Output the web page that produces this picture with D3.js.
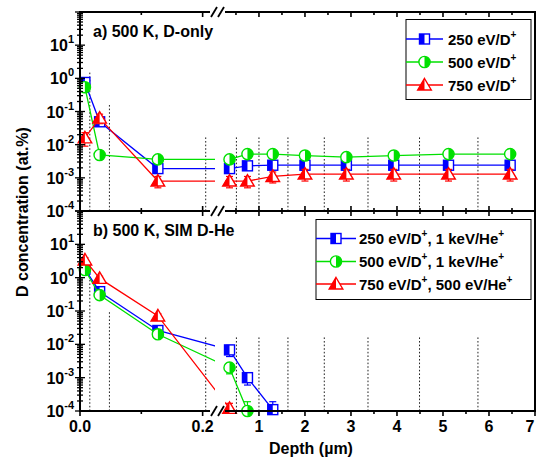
<!DOCTYPE html>
<html>
<head>
<meta charset="utf-8">
<script src="https://cdn.jsdelivr.net/npm/d3@7"></script>
<style>
  body { margin: 0; background: #fff; }
  text { font-family: "Liberation Sans", Arial, sans-serif; font-weight: bold; fill: #000; }
</style>
</head>
<body>
<div id="chart"></div>
<script>
// Depth of each analysed layer (µm, mid-points)
var depth = [0.008, 0.032, 0.127, 0.36, 0.75, 1.3, 2.0, 2.9, 3.93, 5.12, 6.46];
// Layer boundaries (dotted lines)
var layerEdges = [0.016, 0.048, 0.205, 0.51, 1.0, 1.63, 2.42, 3.37, 4.49, 5.76];
var edgeTopA = [1.5, 0.18, 0.018, 0.018, 0.018, 0.018, 0.018, 0.018, 0.018, 0.018];
var edgeTopB = [0.85, 0.1, 0.018, 0.018, 0.018, 0.018, 0.018, 0.018, 0.018, 0.018];

// a) 500 K, D-only
var a250 = [0.75, 0.049, 0.0019, 0.0019, 0.0023, 0.0024, 0.0024, 0.0024, 0.0024, 0.0024, 0.0024];
var a500 = [0.54, 0.0049, 0.0036, 0.0036, 0.0052, 0.0052, 0.0047, 0.0042, 0.0047, 0.0052, 0.0052];
var a750 = [0.016, 0.063, 0.0008, 0.0008, 0.0008, 0.0011, 0.0013, 0.0013, 0.0013, 0.0013, 0.0013];
var a250err = [0.1, 0.007, 0.0003, 0.0003, 0.0003, 0.0003, 0.0003, 0.0003, 0.0003, 0.0003, 0.0003];
var a500err = [0.08, 0.0007, 0.0005, 0.0005, 0.0007, 0.0007, 0.0006, 0.0006, 0.0006, 0.0007, 0.0007];
var a750err = [0.007, 0.02, 0.0003, 0.0003, 0.0003, 0.0004, 0.0005, 0.0005, 0.0005, 0.0005, 0.0005];

// b) 500 K, SIM D-He
var b250 = [1.8, 0.38, 0.026, 0.0068, 0.001, 0.00011];
var b500 = [1.7, 0.30, 0.020, 0.0020, 0.0001];
var b750 = [3.4, 0.95, 0.071, 0.00012];
var b250err = [0.3, 0.06, 0.004, 0.0025, 0.0004, 0.00008];
var b500err = [0.3, 0.05, 0.004, 0.0007, 0.00009];
var b750err = [0.6, 0.15, 0.012, 0.00005];

var labelsA = ["250 eV/D^+", "500 eV/D^+", "750 eV/D^+"];
var labelsB = ["250 eV/D^+, 1 keV/He^+", "500 eV/D^+, 1 keV/He^+", "750 eV/D^+, 500 eV/He^+"];
var colors = ["#0000ff", "#00e000", "#ff0000"];
var shapes = ["square", "circle", "triangle"];

var leftTicks = [0, 0.1, 0.2];
var rightTicks = [0.5, 1, 1.5, 2, 2.5, 3, 3.5, 4, 4.5, 5, 5.5, 6, 6.5, 7];
var xLabels = [{v: 0, t: "0.0"}, {v: 0.2, t: "0.2"}, {v: 1, t: "1"}, {v: 2, t: "2"}, {v: 3, t: "3"},
               {v: 4, t: "4"}, {v: 5, t: "5"}, {v: 6, t: "6"}, {v: 7, t: "7"}];
var decades = [-4, -3, -2, -1, 0, 1];

var svg = d3.select("#chart").append("svg")
  .attr("width", 536)
  .attr("height", 462);

// Broken x axis: two linear pieces
var xLeft = d3.scaleLinear().domain([0, 0.212]).range([80, 210]);
var xRight = d3.scaleLinear().domain([0.24, 7]).range([224, 535]);
function xs(v) { return v < 0.226 ? xLeft(v) : xRight(v); }

var panels = [
  {top: 12, bottom: 211, title: "a) 500 K, D-only", series: [a250, a500, a750], errs: [a250err, a500err, a750err],
   labels: labelsA, edgeTop: edgeTopA, legend: {x: 406, y: 19.5, w: 125, h: 80, lineW: 37, textX: 448, rows: [39, 62, 85]}},
  {top: 211, bottom: 411, title: "b) 500 K, SIM D-He", series: [b250, b500, b750], errs: [b250err, b500err, b750err],
   labels: labelsB, edgeTop: edgeTopB, legend: {x: 316, y: 219.5, w: 215, h: 80, lineW: 40, textX: 359, rows: [238.5, 261.5, 284]}}
];

function superText(sel, str, supSize, shift) {
  var parts = str.split(/\^(.)/);
  parts.forEach(function(p, i) {
    if (p === "") return;
    if (i % 2 === 1) {
      sel.append("tspan").attr("font-size", supSize).attr("dy", -shift).text(p);
    } else {
      var t = sel.append("tspan").text(p);
      if (i > 0) t.attr("dy", shift);
    }
  });
}

function drawMarker(g, shape, color, x, y) {
  var m = g.append("g").attr("transform", "translate(" + x + "," + y + ")");
  if (shape === "square") {
    m.append("rect").attr("x", -5).attr("y", -5).attr("width", 10).attr("height", 10)
      .attr("fill", "#fff").attr("stroke", color).attr("stroke-width", 1.4);
    m.append("rect").attr("x", -5).attr("y", -5).attr("width", 5).attr("height", 10).attr("fill", color);
  } else if (shape === "circle") {
    m.append("circle").attr("r", 5.6).attr("fill", "#fff").attr("stroke", color).attr("stroke-width", 1.4);
    m.append("path").attr("d", "M0,-5.6A5.6,5.6 0 0 1 0,5.6Z").attr("fill", color);
  } else {
    m.append("path").attr("d", "M0,-6.5L6.8,5L-6.8,5Z")
      .attr("fill", "#fff").attr("stroke", color).attr("stroke-width", 1.4).attr("stroke-linejoin", "miter");
    m.append("path").attr("d", "M0,-6.5L0,5L-6.8,5Z").attr("fill", color);
  }
}

var defs = svg.append("defs");

panels.forEach(function(p, pi) {
  var y = d3.scaleLog().domain([1e-4, 1e2]).range([p.bottom, p.top]);
  var g = svg.append("g");

  // clip for the two x-segments of this panel
  var clipId = "clip" + pi;
  var cp = defs.append("clipPath").attr("id", clipId);
  cp.append("rect").attr("x", 80).attr("y", p.top).attr("width", 135).attr("height", p.bottom - p.top);
  cp.append("rect").attr("x", 225).attr("y", p.top).attr("width", 311).attr("height", p.bottom - p.top);
  var errClip = "eclip" + pi;
  defs.append("clipPath").attr("id", errClip).append("rect")
    .attr("x", 70).attr("y", p.top).attr("width", 470).attr("height", p.bottom - p.top);

  // dotted layer boundaries
  g.selectAll("line.edge").data(layerEdges).enter().append("line")
    .attr("x1", d => xs(d)).attr("x2", d => xs(d))
    .attr("y1", p.bottom).attr("y2", (d, i) => y(p.edgeTop[i]))
    .attr("stroke", "#222").attr("stroke-width", 1).attr("stroke-dasharray", "1.6,2");

  var line = d3.line().x(d => xs(d[0])).y(d => y(d[1]));

  p.series.forEach(function(vals, si) {
    var pts = vals.map((v, i) => [depth[i], v]);
    var color = colors[si];
    g.append("path").datum(pts)
      .attr("d", line)
      .attr("fill", "none").attr("stroke", color).attr("stroke-width", 1.3)
      .attr("clip-path", "url(#" + clipId + ")");

    // error bars
    var eg = g.append("g").attr("clip-path", "url(#" + errClip + ")");
    pts.forEach(function(d, i) {
      var e = p.errs[si][i];
      var lo = Math.max(d[1] - e, 1e-6), hi = d[1] + e;
      var cx = xs(d[0]);
      eg.append("line").attr("x1", cx).attr("x2", cx).attr("y1", y(lo)).attr("y2", y(hi))
        .attr("stroke", color).attr("stroke-width", 1.2);
      [lo, hi].forEach(function(v) {
        eg.append("line").attr("x1", cx - 3.5).attr("x2", cx + 3.5).attr("y1", y(v)).attr("y2", y(v))
          .attr("stroke", color).attr("stroke-width", 1.2);
      });
    });

    pts.forEach(function(d) { drawMarker(g, shapes[si], color, xs(d[0]), y(d[1])); });
  });

  // y axis with log ticks
  var ax = svg.append("g");
  ax.append("line").attr("x1", 80).attr("x2", 80).attr("y1", p.top).attr("y2", p.bottom)
    .attr("stroke", "#000").attr("stroke-width", 2);
  ax.append("line").attr("x1", 535).attr("x2", 535).attr("y1", p.top).attr("y2", p.bottom)
    .attr("stroke", "#000").attr("stroke-width", 2);
  y.ticks().forEach(function(t) {
    var major = Math.abs(Math.log10(t) - Math.round(Math.log10(t))) < 1e-6;
    var len = major ? 5 : 3;
    ax.append("line").attr("x1", 80 - len).attr("x2", 80 + len).attr("y1", y(t)).attr("y2", y(t))
      .attr("stroke", "#000").attr("stroke-width", 1.3);
  });
  decades.forEach(function(d) {
    var t = ax.append("text").attr("x", 74).attr("y", y(Math.pow(10, d)) + 6)
      .attr("text-anchor", "end").attr("font-size", 16);
    t.append("tspan").text("10");
    t.append("tspan").attr("font-size", 11).attr("dy", -8).text(d);
  });

  // panel title
  g.append("text").attr("x", 93).attr("y", p.top + 25).attr("font-size", 16).text(p.title);

  // legend
  var L = p.legend;
  var lg = svg.append("g");
  lg.append("rect").attr("x", L.x).attr("y", L.y).attr("width", L.w).attr("height", L.h)
    .attr("fill", "#fff").attr("stroke", "#000").attr("stroke-width", 1);
  p.labels.forEach(function(lab, i) {
    var ry = L.rows[i];
    lg.append("line").attr("x1", L.x).attr("x2", L.x + L.lineW).attr("y1", ry).attr("y2", ry)
      .attr("stroke", colors[i]).attr("stroke-width", 1.3);
    drawMarker(lg, shapes[i], colors[i], L.x + L.lineW / 2, ry);
    var t = lg.append("text").attr("x", L.textX).attr("y", ry + 5.5).attr("font-size", 15);
    superText(t, lab, 10, 7);
  });
});

// horizontal axes with break marks
var axisY = [{y: 12, up: 0, down: 5}, {y: 211, up: 5, down: 5}, {y: 411, up: 0, down: 5}];
var xa = svg.append("g");
axisY.forEach(function(a) {
  xa.append("line").attr("x1", 79).attr("x2", 210).attr("y1", a.y).attr("y2", a.y)
    .attr("stroke", "#000").attr("stroke-width", 2);
  xa.append("line").attr("x1", 225).attr("x2", 536).attr("y1", a.y).attr("y2", a.y)
    .attr("stroke", "#000").attr("stroke-width", 2);
  [211, 218].forEach(function(bx) {
    xa.append("line").attr("x1", bx).attr("x2", bx + 6).attr("y1", a.y + 5).attr("y2", a.y - 5)
      .attr("stroke", "#000").attr("stroke-width", 1.8);
  });
  function tick(px, major) {
    var k = major ? 1 : 0.6;
    xa.append("line").attr("x1", px).attr("x2", px)
      .attr("y1", a.y - a.up * k).attr("y2", a.y + a.down * k)
      .attr("stroke", "#000").attr("stroke-width", 1.6);
  }
  leftTicks.forEach(function(t) { tick(xLeft(t), Math.abs(t * 10 % 2) < 1e-6); });
  rightTicks.forEach(function(t) { tick(xRight(t), t % 1 === 0); });
});

xLabels.forEach(function(l) {
  // keep the last label inside the window
  var px = Math.min(xs(l.v), 530);
  xa.append("text").attr("x", px).attr("y", 432).attr("text-anchor", "middle")
    .attr("font-size", 16).text(l.t);
});

svg.append("text").attr("x", 311).attr("y", 454).attr("text-anchor", "middle")
  .attr("font-size", 16).text("Depth (µm)");
svg.append("text").attr("transform", "translate(28,212) rotate(-90)").attr("text-anchor", "middle")
  .attr("font-size", 16).text("D concentration (at.%)");
</script>
</body>
</html>
